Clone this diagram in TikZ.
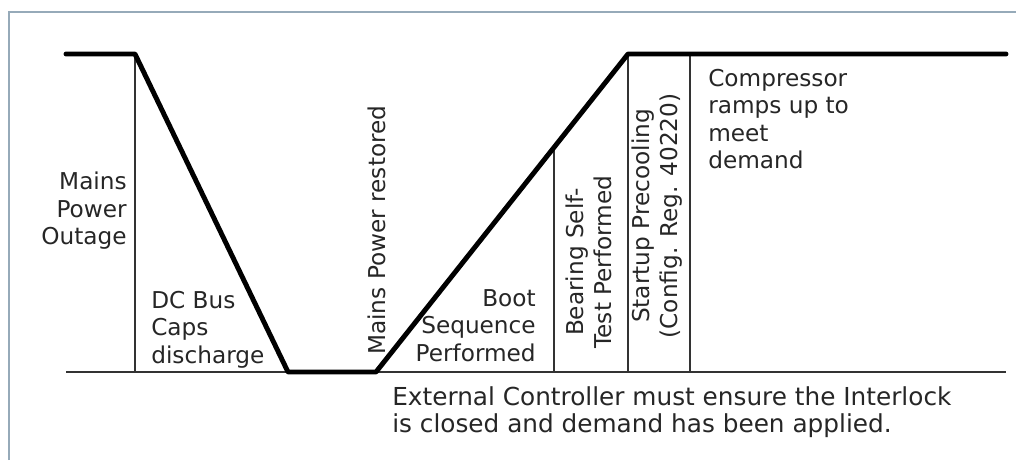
\documentclass[tikz,border=0pt]{standalone}
\usepackage{fontspec}
\setmainfont{DejaVu Sans}
\usetikzlibrary{calc,positioning}

\begin{document}
\begin{tikzpicture}[x=0.025cm,y=-0.025cm,font=\fontsize{16.5}{19.5}\selectfont,every node/.style={inner sep=0pt,text=black!85},supply/.style={line width=3.5pt,line join=round,line cap=round},divider/.style={line width=0.9pt,black!80},frame/.style={line width=0.8pt,color={rgb,255:red,150;green,170;blue,185}}]
	\useasboundingbox (0,0) rectangle (1016,460);
	\draw[frame] (9,460) -- (9,12) -- (1016,12);

	\coordinate (s0) at (66,54);
	\coordinate (s1) at (135,54);
	\coordinate (s2) at (288,372);
	\coordinate (s3) at (376,372);
	\coordinate (s4) at (628,54);
	\coordinate (s5) at (1006,54);
	\coordinate (b0) at (66,372);
	\coordinate (b1) at (1006,372);
	\coordinate (t1) at ($(s3)!0.706!(s4)$);

	\draw[divider] (b0) -- (b1);
	\draw[divider] (s1) -- (s1 |- b0);
	\draw[divider] (t1) -- (t1 |- b0);
	\draw[divider] (s4) -- (s4 |- b0);
	\draw[divider] (690,54) coordinate (c1) -- (c1 |- b0);
	\draw[supply] (s0) -- (s1) -- (s2) -- (s3) -- (s4) -- (s5);

	\node (outage) at (127,172) [anchor=north east,align=right] {Mains\\Power\\Outage};
	\node (caps) at (151,291) [anchor=north west,align=left] {DC Bus\\Caps\\discharge};
	\node (restored) at (377,355) [anchor=west,rotate=90] {Mains Power restored};
	\node (boot) at (536,289) [anchor=north east,align=right] {Boot\\Sequence\\Performed};
	\node (selftest) at (589,262) [rotate=90,align=center] {Bearing Self-\\Test Performed};
	\node (precool) at (657,216) [rotate=90,align=center] {Startup Precooling\\(Config. Reg. 40220)};
	\node (ramp) at (708,69) [anchor=north west,align=left] {Compressor\\ramps up to\\meet\\demand};
	\node (note) at (392,386) [anchor=north west,align=left,font=\fontsize{17.6}{19.8}\selectfont] {External Controller must ensure the Interlock\\is closed and demand has been applied.};
\end{tikzpicture}
\end{document}
